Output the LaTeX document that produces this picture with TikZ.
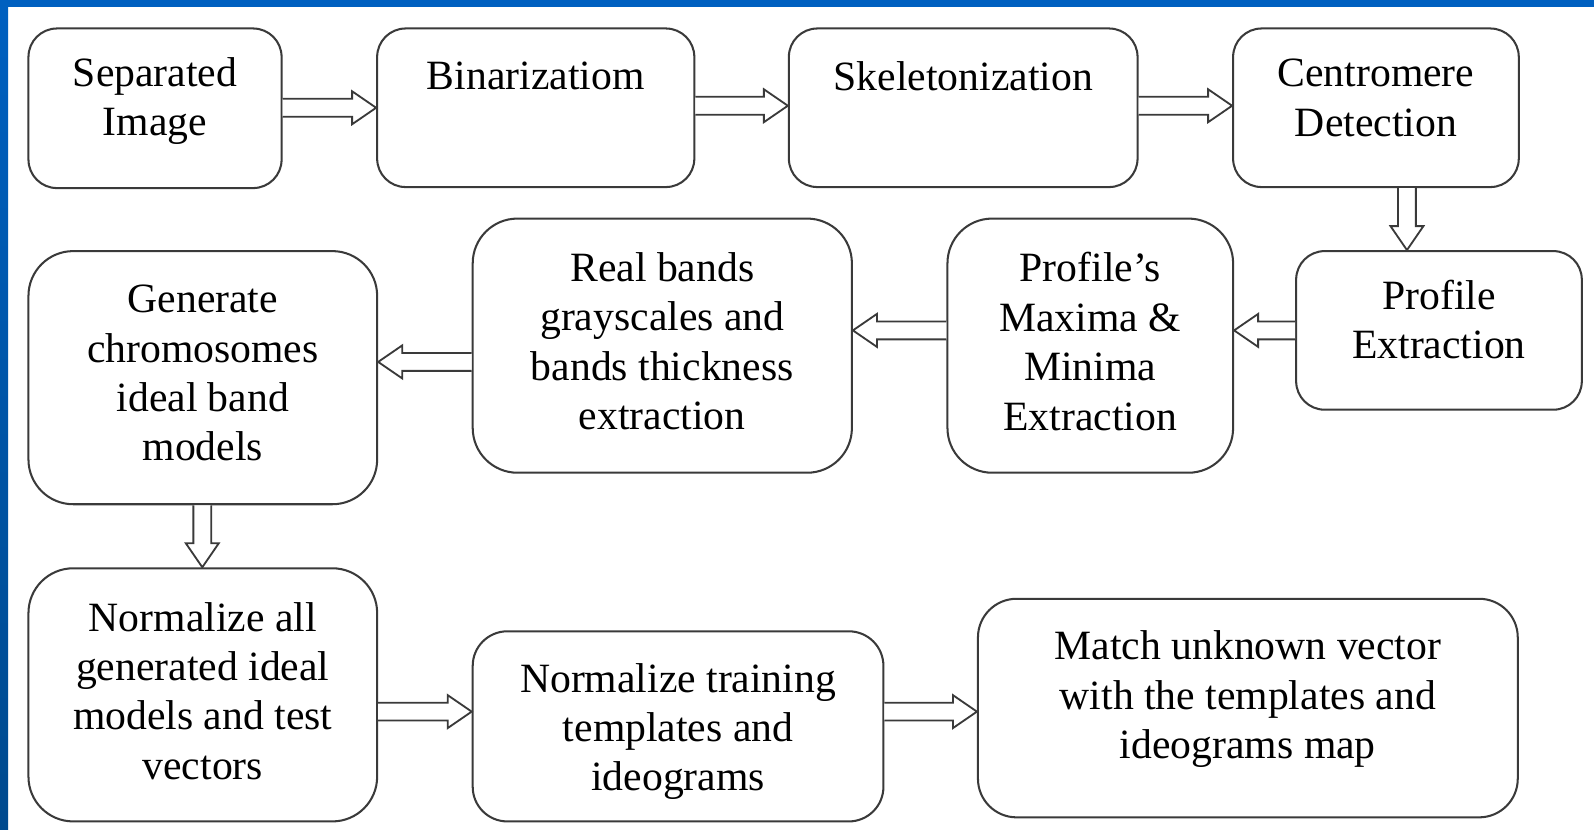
\documentclass[tikz,border=0pt]{standalone}
\usepackage{fontspec}
\setmainfont{Liberation Serif}
\usetikzlibrary{fit,calc}
\definecolor{bartop}{HTML}{0060C0}
\definecolor{barbot}{HTML}{004A8E}
\definecolor{edge}{HTML}{3A3A3A}
\newcommand\mybox[8]{%
  \node[box, rounded corners=#6, fit={(#2,#3)(#4,#5)}] (#1) {};
  \node[txt] (#1t) at ([yshift=-#7]#1.north) {#8};}
\newcommand\rarrow[3]{%
  \draw[barr] let \p1=(#1 |- #3), \p2=(#2 |- #3) in
    (\x1,\y1+4.4pt) -- (\x2-11.8pt,\y1+4.4pt) -- (\x2-11.8pt,\y1+8.1pt) -- (\x2,\y1)
    -- (\x2-11.8pt,\y1-8.1pt) -- (\x2-11.8pt,\y1-4.4pt) -- (\x1,\y1-4.4pt);}
\newcommand\larrow[3]{%
  \draw[barr] let \p1=(#1 |- #3), \p2=(#2 |- #3) in
    (\x1,\y1+4.4pt) -- (\x2+11.8pt,\y1+4.4pt) -- (\x2+11.8pt,\y1+8.1pt) -- (\x2,\y1)
    -- (\x2+11.8pt,\y1-8.1pt) -- (\x2+11.8pt,\y1-4.4pt) -- (\x1,\y1-4.4pt);}
\newcommand\darrow[3]{%
  \draw[barr] let \p1=(#1 -| #3), \p2=(#2 -| #3) in
    (\x1-4.4pt,\y1) -- (\x1-4.4pt,\y2+11.8pt) -- (\x1-8.1pt,\y2+11.8pt) -- (\x1,\y2)
    -- (\x1+8.1pt,\y2+11.8pt) -- (\x1+4.4pt,\y2+11.8pt) -- (\x1+4.4pt,\y1);}
\begin{document}
\begin{tikzpicture}[x=0.5pt,y=-0.5pt,
  box/.style={draw=edge, line width=1pt, inner sep=0pt},
  txt/.style={align=center, font=\fontsize{20.5}{24.3}\selectfont, inner sep=0pt, anchor=north},
  barr/.style={draw=edge, line width=0.9pt, fill=white, line join=miter}]
\useasboundingbox (0,0) rectangle (1568,816);
\fill[white] (0,0) rectangle (1568,816);
\shade[top color=bartop, bottom color=barbot] (0,0) rectangle (8,816);
\fill[bartop] (0,0) rectangle (1568,7);

\mybox{b1}{28}{28}{277}{185}{14pt}{14.5pt}{Separated\\Image}
\mybox{b2}{371}{28}{683}{184}{14pt}{16.5pt}{Binarizatiom}
\mybox{b3}{776}{28}{1119}{184}{14pt}{16.5pt}{Skeletonization}
\mybox{b4}{1213}{28}{1494}{184}{14pt}{15.5pt}{Centromere\\Detection}
\mybox{b5}{1275}{247}{1556}{403}{14pt}{14.5pt}{Profile\\Extraction}
\mybox{b6}{932}{215}{1213}{465}{22pt}{17pt}{Profile’s\\Maxima \&\\Minima\\Extraction}
\mybox{b7}{465}{215}{838}{465}{22pt}{17pt}{Real bands\\grayscales and\\bands thickness\\extraction}
\mybox{b8}{28}{247}{371}{496}{22pt}{17pt}{Generate\\chromosomes\\ideal band\\models}
\mybox{b9}{28}{559}{371}{808}{22pt}{17pt}{Normalize all\\generated ideal\\models and test\\vectors}
\mybox{b10}{465}{621}{869}{808}{17pt}{16pt}{Normalize training\\templates and\\ideograms}
\mybox{b11}{962}{589}{1493}{804}{19pt}{16pt}{Match unknown vector\\with the templates and\\ideograms map}

\coordinate (r1) at (0,106);
\coordinate (r1b) at (0,104);
\coordinate (r2) at (0,325);
\coordinate (r3) at (0,356);
\coordinate (r4) at (0,700);
\coordinate (c1) at (1384,0);
\coordinate (c2) at (199,0);

\rarrow{b1.east}{b2.west}{r1}
\rarrow{b2.east}{b3.west}{r1b}
\rarrow{b3.east}{b4.west}{r1b}
\darrow{b4.south}{b5.north}{c1}
\larrow{b5.west}{b6.east}{r2}
\larrow{b6.west}{b7.east}{r2}
\larrow{b7.west}{b8.east}{r3}
\darrow{b8.south}{b9.north}{c2}
\rarrow{b9.east}{b10.west}{r4}
\rarrow{b10.east}{b11.west}{r4}
\end{tikzpicture}
\end{document}
